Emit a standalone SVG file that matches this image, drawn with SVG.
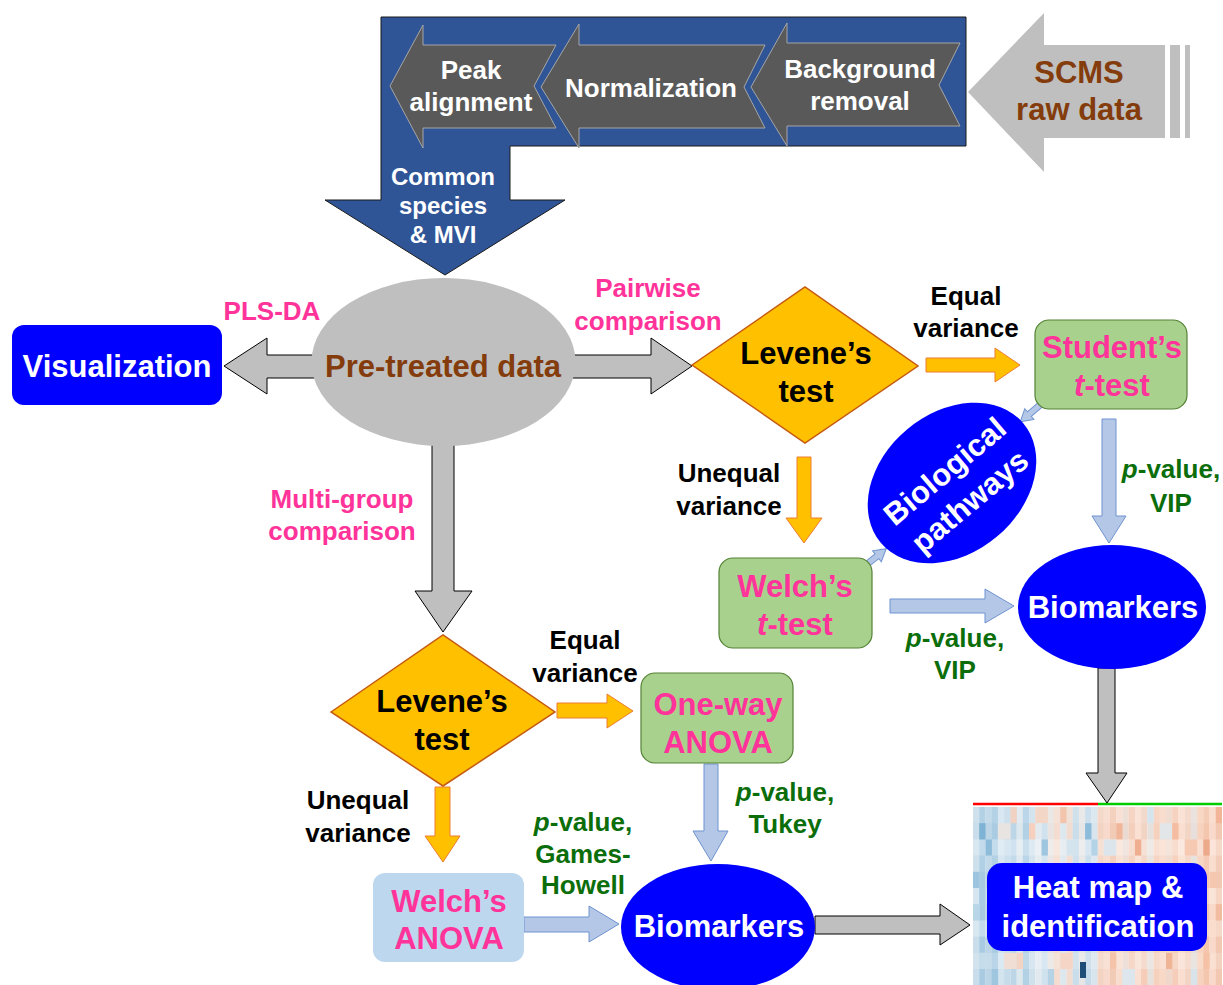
<svg xmlns="http://www.w3.org/2000/svg" width="1223" height="985" viewBox="0 0 1223 985">
<style>
.t{font-family:"Liberation Sans",Arial,sans-serif;font-weight:bold;text-anchor:middle}
.big{font-size:31px}
.sm{font-size:26px}
.pn{font-size:26px}
.w{fill:#FFFFFF}.pink{fill:#FF3399}.grn{fill:#0B6E0B}.brn{fill:#843C0C}.blk{fill:#000000}
.i{font-style:italic}
.gA{fill:#BFBFBF;stroke:#000000;stroke-width:1}
.oA{fill:#FFC000;stroke:#ED7D31;stroke-width:1}
.bA{fill:#B4C7E7;stroke:#6F93D0;stroke-width:1}
.chev{fill:#595959;stroke:#A6A6A6;stroke-width:1}
.gbox{fill:#A9D18E;stroke:#548235;stroke-width:1.2}
.dia{fill:#FFC000;stroke:#C55A11;stroke-width:1.5}
.blue{fill:#0000FF}
</style>

<g id="heatmap">
  <g id="hm-cols">
    <rect x="973.0" y="807" width="6.4" height="178" fill="#C9DDEA"/>
    <rect x="979.2" y="807" width="6.4" height="178" fill="#A8CBE2"/>
    <rect x="985.5" y="807" width="6.4" height="178" fill="#BBD5E7"/>
    <rect x="991.7" y="807" width="6.4" height="178" fill="#AACCE2"/>
    <rect x="997.9" y="807" width="6.4" height="178" fill="#D3E4EF"/>
    <rect x="1004.1" y="807" width="6.4" height="178" fill="#C6DCEA"/>
    <rect x="1010.4" y="807" width="6.4" height="178" fill="#BCD6E8"/>
    <rect x="1016.6" y="807" width="6.4" height="178" fill="#DCE7EE"/>
    <rect x="1022.8" y="807" width="6.4" height="178" fill="#B2D1E5"/>
    <rect x="1029.0" y="807" width="6.4" height="178" fill="#CFE1ED"/>
    <rect x="1035.3" y="807" width="6.4" height="178" fill="#E2EAEF"/>
    <rect x="1041.5" y="807" width="6.4" height="178" fill="#D0E2EE"/>
    <rect x="1047.7" y="807" width="6.4" height="178" fill="#E9E4E1"/>
    <rect x="1053.9" y="807" width="6.4" height="178" fill="#F4DDD0"/>
    <rect x="1060.2" y="807" width="6.4" height="178" fill="#DDE7EE"/>
    <rect x="1066.4" y="807" width="6.4" height="178" fill="#F0DCD1"/>
    <rect x="1072.6" y="807" width="6.4" height="178" fill="#CADDEA"/>
    <rect x="1078.8" y="807" width="6.4" height="178" fill="#E6E6E6"/>
    <rect x="1085.1" y="807" width="6.4" height="178" fill="#C6DBEA"/>
    <rect x="1091.3" y="807" width="6.4" height="178" fill="#D8E5EE"/>
    <rect x="1097.5" y="807" width="6.4" height="178" fill="#F3D3C2"/>
    <rect x="1103.7" y="807" width="6.4" height="178" fill="#F7DACB"/>
    <rect x="1110.0" y="807" width="6.4" height="178" fill="#F2CBB6"/>
    <rect x="1116.2" y="807" width="6.4" height="178" fill="#F8DDCF"/>
    <rect x="1122.4" y="807" width="6.4" height="178" fill="#EBDAD1"/>
    <rect x="1128.6" y="807" width="6.4" height="178" fill="#F4CFBC"/>
    <rect x="1134.9" y="807" width="6.4" height="178" fill="#F9E0D3"/>
    <rect x="1141.1" y="807" width="6.4" height="178" fill="#F2D4C4"/>
    <rect x="1147.3" y="807" width="6.4" height="178" fill="#E7E1DD"/>
    <rect x="1153.5" y="807" width="6.4" height="178" fill="#F6D1BE"/>
    <rect x="1159.8" y="807" width="6.4" height="178" fill="#F8D9C8"/>
    <rect x="1166.0" y="807" width="6.4" height="178" fill="#EFD8CB"/>
    <rect x="1172.2" y="807" width="6.4" height="178" fill="#F5CDB8"/>
    <rect x="1178.4" y="807" width="6.4" height="178" fill="#FADFD1"/>
    <rect x="1184.7" y="807" width="6.4" height="178" fill="#F3D5C5"/>
    <rect x="1190.9" y="807" width="6.4" height="178" fill="#E6DFDB"/>
    <rect x="1197.1" y="807" width="6.4" height="178" fill="#F7D2BE"/>
    <rect x="1203.3" y="807" width="6.4" height="178" fill="#F4C6AE"/>
    <rect x="1209.6" y="807" width="6.4" height="178" fill="#F9DACA"/>
    <rect x="1215.8" y="807" width="6.2" height="178" fill="#F2C8B2"/>
  </g>
  <g id="hm-rows" fill="#FFFFFF">
    <rect x="973" y="807" width="249" height="16.2" opacity="0.12"/>
    <rect x="973" y="839.4" width="249" height="16.2" opacity="0.3"/>
    <rect x="973" y="855.6" width="249" height="16.2" opacity="0.1"/>
    <rect x="973" y="888" width="249" height="16.2" opacity="0.25"/>
    <rect x="973" y="920.4" width="249" height="16.2" opacity="0.3"/>
    <rect x="973" y="952.8" width="249" height="16.2" opacity="0.18"/>
  </g>
  <g id="hm-cells">
    <rect x="979.2" y="823.2" width="6.4" height="16.2" fill="#7FB3D5"/>
    <rect x="985.5" y="839.4" width="6.4" height="16.2" fill="#8DBCDB"/>
    <rect x="997.9" y="823.2" width="12.6" height="16.2" fill="#E8E4E2"/>
    <rect x="1010.4" y="807" width="6.4" height="16.2" fill="#F1D2C2"/>
    <rect x="1029.0" y="823.2" width="6.4" height="16.2" fill="#F6D0BE"/>
    <rect x="1035.3" y="807" width="12.6" height="16.2" fill="#F4D6C7"/>
    <rect x="1041.5" y="839.4" width="6.4" height="16.2" fill="#9FC6DF"/>
    <rect x="1060.2" y="807" width="6.4" height="16.2" fill="#F3C4AC"/>
    <rect x="1066.4" y="839.4" width="12.6" height="16.2" fill="#D4E4EE"/>
    <rect x="1085.1" y="823.2" width="6.4" height="16.2" fill="#8DBCDB"/>
    <rect x="1091.3" y="839.4" width="6.4" height="16.2" fill="#B5D3E7"/>
    <rect x="1103.7" y="839.4" width="12.6" height="16.2" fill="#DCE5EC"/>
    <rect x="1116.2" y="823.2" width="6.4" height="16.2" fill="#F0B699"/>
    <rect x="1134.9" y="839.4" width="6.4" height="16.2" fill="#EFAE8F"/>
    <rect x="1147.3" y="807" width="6.4" height="16.2" fill="#D6E4EE"/>
    <rect x="1159.8" y="823.2" width="12.6" height="16.2" fill="#E2E6E9"/>
    <rect x="1172.2" y="823.2" width="6.4" height="16.2" fill="#F4BDA1"/>
    <rect x="1184.7" y="839.4" width="12.6" height="16.2" fill="#F6C9B3"/>
    <rect x="1203.3" y="839.4" width="6.4" height="16.2" fill="#EDAA8A"/>
    <rect x="1215.8" y="807" width="6.2" height="16.2" fill="#F3B597"/>
    <rect x="973.0" y="871.8" width="6.4" height="16.2" fill="#9DC5DF"/>
    <rect x="973.0" y="904.2" width="6.4" height="16.2" fill="#B9D5E8"/>
    <rect x="979.2" y="888" width="6.4" height="16.2" fill="#A9CCE3"/>
    <rect x="1209.6" y="871.8" width="6.4" height="16.2" fill="#F6C7AF"/>
    <rect x="1215.8" y="904.2" width="6.2" height="16.2" fill="#F2BCA0"/>
    <rect x="1209.6" y="920.4" width="6.4" height="16.2" fill="#FADDCD"/>
    <rect x="979.2" y="952.8" width="6.4" height="16.2" fill="#C5DCEA"/>
    <rect x="991.7" y="969" width="6.4" height="16" fill="#9FC6DF"/>
    <rect x="1004.1" y="952.8" width="12.6" height="16.2" fill="#F0DED4"/>
    <rect x="1016.6" y="952.8" width="6.4" height="16.2" fill="#F3D3C3"/>
    <rect x="1047.7" y="969" width="6.4" height="16" fill="#B6D3E6"/>
    <rect x="1060.2" y="952.8" width="12.6" height="16.2" fill="#F5D5C5"/>
    <rect x="1110.0" y="952.8" width="6.4" height="16.2" fill="#F4C3A9"/>
    <rect x="1122.4" y="969" width="12.6" height="16" fill="#DDE6EC"/>
    <rect x="1141.1" y="969" width="6.4" height="16" fill="#F6CDB8"/>
    <rect x="1166.0" y="952.8" width="6.4" height="16.2" fill="#EFB596"/>
    <rect x="1190.9" y="969" width="6.4" height="16" fill="#D8E3EA"/>
    <rect x="1203.3" y="952.8" width="6.4" height="16.2" fill="#F5C2A7"/>
    <rect x="1080" y="962" width="6" height="16" fill="#1F4E79"/>
  </g>
  <line x1="973" y1="804" x2="1098" y2="804" stroke="#FF0000" stroke-width="2.6"/>
  <line x1="1098" y1="804" x2="1222" y2="804" stroke="#00CC00" stroke-width="2.6"/>
</g>

<g id="connectors">
  <path id="c-pre-vis-pair" class="gA" d="M224,366 L267,338 V355 H651 V338 L692,366 L651,394 V378 H267 V394 Z"/>
  <path id="c-pre-multi" class="gA" d="M432,430 H454 V591 H472 L443,632 L415,591 H432 Z"/>
  <path id="c-lev1-student" class="oA" d="M926,358 H995 V348 L1020,365 L995,382 V372 H926 Z"/>
  <path id="c-lev1-welcht" class="oA" d="M797,457 H811 V518 H822 L804,543 L786,518 H797 Z"/>
  <path id="c-student-bio" class="bA" d="M1102,419 H1116 V516 H1126 L1109,543 L1092,516 H1102 Z"/>
  <path id="c-welcht-bio" class="bA" d="M890,599 H985 V589 L1014,606 L985,623 V613 H890 Z"/>
  <path id="c-student-path" class="bA" transform="translate(1040,405) rotate(139.6)" d="M0,-3 H14 V-7 L26,0 L14,7 V3 H0 Z"/>
  <path id="c-welcht-path" class="bA" transform="translate(866,565) rotate(-38.7)" d="M0,-3 H14 V-7 L26,0 L14,7 V3 H0 Z"/>
  <path id="c-bio-heat" class="gA" d="M1098,668 H1115 V773 H1127 L1107,803 L1086,773 H1098 Z"/>
  <path id="c-lev2-oneway" class="oA" d="M557,703 H607 V694 L633,711 L607,728 V718 H557 Z"/>
  <path id="c-lev2-welcha" class="oA" d="M435,787 H450 V836 H460 L443,862 L425,836 H435 Z"/>
  <path id="c-oneway-bio" class="bA" d="M704,764 H718 V831 H728 L711,861 L693,831 H704 Z"/>
  <path id="c-welcha-bio" class="bA" d="M524,917 H589 V906 L619,924 L589,942 V932 H524 Z"/>
  <path id="c-bio2-heat" class="gA" d="M815,916 H940 V904 L970,925 L940,945 V934 H815 Z"/>
</g>

<g id="preprocessing">
  <path d="M381,17 H966 V146 H510 V200 H565 L445,275 L325,200 H381 Z" fill="#2F5597" stroke="#1A1A1A" stroke-width="1"/>
  <text class="t w" style="font-size:24px"><tspan x="443" y="185">Common</tspan><tspan x="443" y="214">species</tspan><tspan x="443" y="243">&amp; MVI</tspan></text>
</g>
<g id="peak-alignment">
  <path class="chev" d="M390,86 L423,25 V45 H556 L534,86 L556,128 H423 V148 Z"/>
  <text class="t pn w"><tspan x="471" y="79">Peak</tspan><tspan x="471" y="111">alignment</tspan></text>
</g>
<g id="normalization">
  <path class="chev" d="M541,87 L579,24 V45 H765 L744,87 L765,128 H579 V148 Z"/>
  <text class="t pn w" x="651" y="97">Normalization</text>
</g>
<g id="background-removal">
  <path class="chev" d="M751,87 L787,23 V43 H960 L939,85 L960,126 H787 V146 Z"/>
  <text class="t pn w"><tspan x="860" y="78">Background</tspan><tspan x="860" y="110">removal</tspan></text>
</g>
<g id="scms">
  <path d="M968,92 L1044,13 V45 H1165 V138 H1044 V172 Z" fill="#BFBFBF"/>
  <rect x="1170" y="45" width="10" height="93" fill="#BFBFBF"/>
  <rect x="1185" y="45" width="5" height="93" fill="#BFBFBF"/>
  <text class="t big brn"><tspan x="1079" y="83">SCMS</tspan><tspan x="1079" y="120">raw data</tspan></text>
</g>

<g id="visualization">
  <rect class="blue" x="12" y="325" width="210" height="80" rx="12"/>
  <text class="t big w" x="117" y="377">Visualization</text>
</g>
<g id="pretreated">
  <ellipse cx="443.5" cy="362" rx="132" ry="84" fill="#BFBFBF"/>
  <text class="t big brn" x="443" y="377">Pre-treated data</text>
</g>
<g id="labels">
  <text class="t sm pink" x="272" y="320">PLS-DA</text>
  <text class="t sm pink"><tspan x="648" y="297">Pairwise</tspan><tspan x="648" y="330">comparison</tspan></text>
  <text class="t sm pink"><tspan x="342" y="508">Multi-group</tspan><tspan x="342" y="540">comparison</tspan></text>
  <text class="t sm blk"><tspan x="966" y="305">Equal</tspan><tspan x="966" y="337">variance</tspan></text>
  <text class="t sm blk"><tspan x="729" y="482">Unequal</tspan><tspan x="729" y="515">variance</tspan></text>
  <text class="t sm grn"><tspan x="1171" y="478"><tspan class="i">p</tspan>-value,</tspan><tspan x="1171" y="512">VIP</tspan></text>
  <text class="t sm grn"><tspan x="955" y="647"><tspan class="i">p</tspan>-value,</tspan><tspan x="955" y="679">VIP</tspan></text>
  <text class="t sm blk"><tspan x="585" y="649">Equal</tspan><tspan x="585" y="682">variance</tspan></text>
  <text class="t sm grn"><tspan x="785" y="801"><tspan class="i">p</tspan>-value,</tspan><tspan x="785" y="833">Tukey</tspan></text>
  <text class="t sm blk"><tspan x="358" y="809">Unequal</tspan><tspan x="358" y="842">variance</tspan></text>
  <text class="t sm grn"><tspan x="583" y="831"><tspan class="i">p</tspan>-value,</tspan><tspan x="583" y="863">Games-</tspan><tspan x="583" y="894">Howell</tspan></text>
</g>
<g id="levene-pairwise">
  <polygon class="dia" points="692,365 805,287 918,366 805,443"/>
  <text class="t big blk"><tspan x="806" y="364">Levene’s</tspan><tspan x="806" y="402">test</tspan></text>
</g>
<g id="students-ttest">
  <rect class="gbox" x="1035" y="320" width="152" height="89" rx="14"/>
  <text class="t big pink"><tspan x="1112" y="358">Student’s</tspan><tspan x="1112" y="396"><tspan class="i">t</tspan>-test</tspan></text>
</g>
<g id="biological-pathways">
  <g transform="translate(952,483) rotate(-40)">
    <ellipse cx="0" cy="0" rx="93" ry="70" class="blue"/>
    <text class="t big w"><tspan x="2" y="-3">Biological</tspan><tspan x="2" y="36">pathways</tspan></text>
  </g>
</g>
<g id="welchs-ttest">
  <rect class="gbox" x="719" y="558" width="153" height="90" rx="14"/>
  <text class="t big pink"><tspan x="795" y="597">Welch’s</tspan><tspan x="795" y="635"><tspan class="i">t</tspan>-test</tspan></text>
</g>
<g id="biomarkers-pairwise">
  <ellipse class="blue" cx="1112" cy="607" rx="94" ry="62"/>
  <text class="t big w" x="1113" y="618">Biomarkers</text>
</g>
<g id="levene-multigroup">
  <polygon class="dia" points="331,712 443,635 555,712 443,786"/>
  <text class="t big blk"><tspan x="442" y="712">Levene’s</tspan><tspan x="442" y="750">test</tspan></text>
</g>
<g id="oneway-anova">
  <rect class="gbox" x="641" y="673" width="152" height="90" rx="14"/>
  <text class="t big pink"><tspan x="718" y="715">One-way</tspan><tspan x="718" y="753">ANOVA</tspan></text>
</g>
<g id="welchs-anova">
  <rect x="373" y="873" width="151" height="89" rx="12" fill="#BDD7EE"/>
  <text class="t big pink"><tspan x="449" y="912">Welch’s</tspan><tspan x="449" y="949">ANOVA</tspan></text>
</g>
<g id="biomarkers-multigroup">
  <ellipse class="blue" cx="718" cy="927" rx="97" ry="63"/>
  <text class="t big w" x="719" y="937">Biomarkers</text>
</g>
<g id="heatmap-identification">
  <rect class="blue" x="987" y="863" width="220" height="88" rx="15"/>
  <text class="t big w"><tspan x="1098" y="898">Heat map &amp;</tspan><tspan x="1098" y="937">identification</tspan></text>
</g>
</svg>
